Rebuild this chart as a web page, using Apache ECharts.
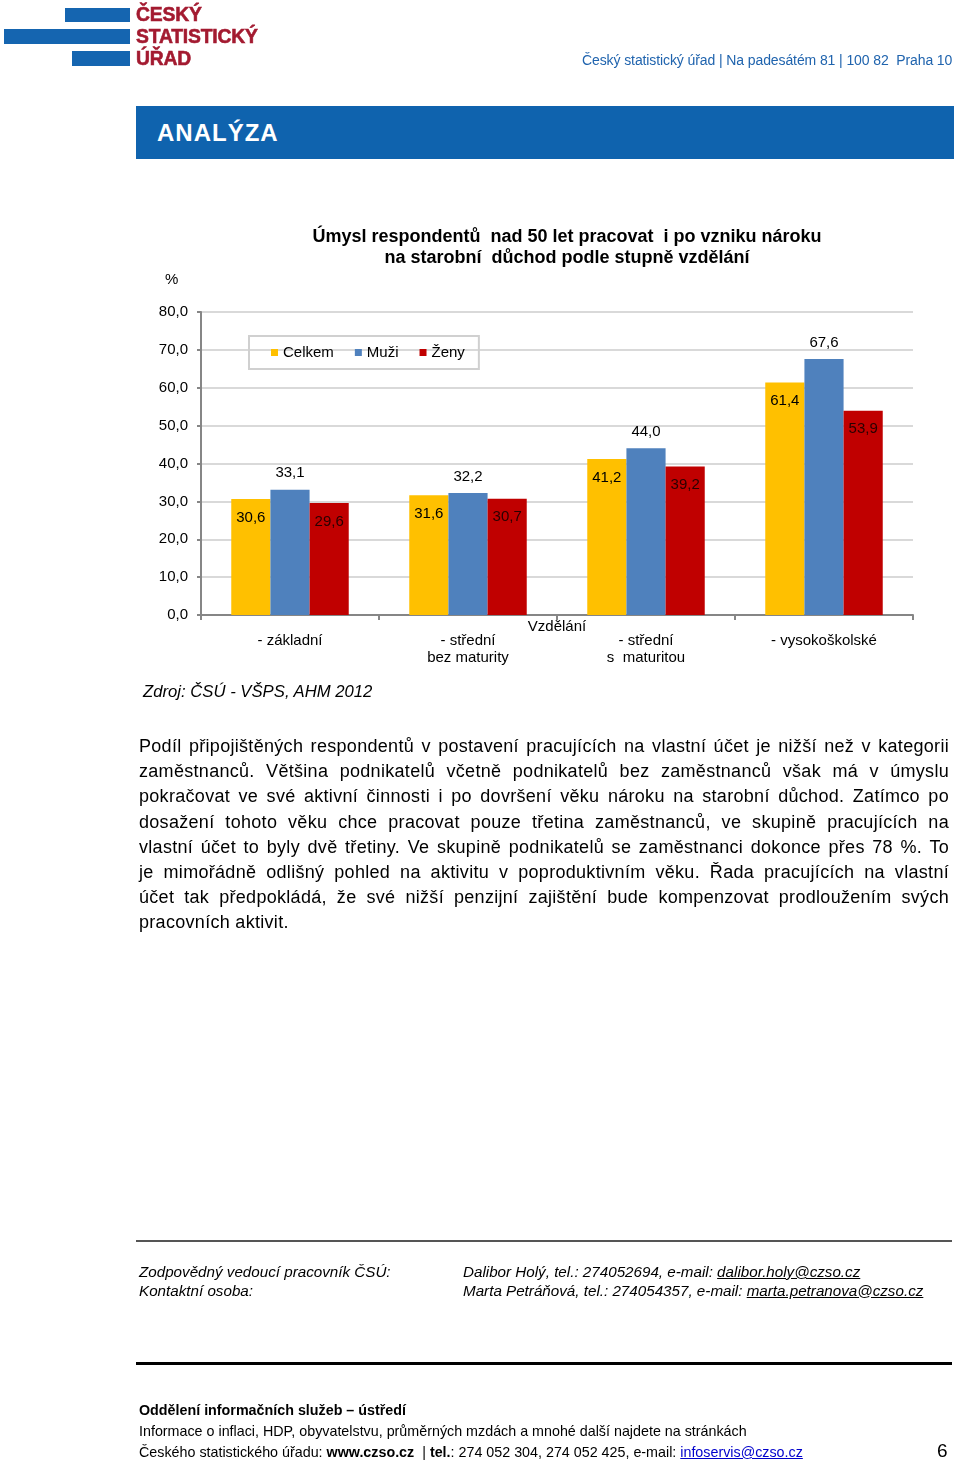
<!DOCTYPE html>
<html>
<head>
<meta charset="utf-8">
<script src="https://cdn.jsdelivr.net/npm/echarts@6/dist/echarts.min.js"></script>
<style>
  html, body { margin:0; padding:0; background:#fff; }
  body { width:960px; height:1467px; position:relative; overflow:hidden; font-family:"Liberation Sans", Arial, sans-serif; color:#000; }
  #chart { position:absolute; left:0; top:0; width:960px; height:1467px; z-index:0; }
  .abs { position:absolute; z-index:2; white-space:nowrap; }
  .bar { position:absolute; background:#1565b0; z-index:2; }
  .logo { color:#a31a30; font-weight:bold; font-size:21px; line-height:22px; transform:scaleX(0.92); transform-origin:left center; letter-spacing:-0.2px; -webkit-text-stroke:0.6px #a31a30; }
  .para { position:absolute; left:139px; top:734px; width:810px; font-size:18px; letter-spacing:0.3px; line-height:25.2px; z-index:2; }
  .para div { text-align:justify; text-align-last:justify; white-space:nowrap; }
  .para div.last { text-align-last:left; }
  .foot-i { font-style:italic; font-size:15.2px; line-height:18.5px; }
  .foot-b { font-size:14.3px; line-height:21px; }
  a { color:#00c; text-decoration:underline; }
</style>
</head>
<body>
<div id="chart"></div>

<!-- header / logo -->
<div class="bar" style="left:65px;top:8px;width:65px;height:14px;"></div>
<div class="bar" style="left:4px;top:29px;width:126px;height:15px;"></div>
<div class="bar" style="left:72px;top:51px;width:58px;height:15px;"></div>
<div class="abs logo" style="left:136px;top:3px;">ČESKÝ<br>STATISTICKÝ<br>ÚŘAD</div>
<div class="abs" style="left:582px;top:52px;font-size:14px;color:#2064ae;letter-spacing:-0.1px;">Český statistický úřad | Na padesátém 81 | 100 82&nbsp; Praha 10</div>
<div class="abs" style="left:136px;top:106px;width:818px;height:53px;background:#0f63ae;"></div>
<div class="abs" style="left:157px;top:118px;font-size:24px;font-weight:bold;color:#fff;letter-spacing:1px;line-height:30px;">ANALÝZA</div>

<!-- source -->
<div class="abs" style="left:143px;top:682px;font-size:16.7px;font-style:italic;">Zdroj: ČSÚ - VŠPS, AHM 2012</div>

<!-- paragraph -->
<div class="para">
<div>Podíl připojištěných respondentů v&nbsp;postavení pracujících na vlastní účet je nižší než v&nbsp;kategorii</div>
<div>zaměstnanců. Většina podnikatelů včetně podnikatelů bez zaměstnanců však má v&nbsp;úmyslu</div>
<div>pokračovat ve své aktivní činnosti i po dovršení věku nároku na starobní důchod. Zatímco po</div>
<div>dosažení tohoto věku chce pracovat pouze třetina zaměstnanců, ve skupině pracujících na</div>
<div>vlastní účet to byly dvě třetiny. Ve skupině podnikatelů se zaměstnanci dokonce přes 78 %. To</div>
<div>je mimořádně odlišný pohled na aktivitu v&nbsp;poproduktivním věku. Řada pracujících na vlastní</div>
<div>účet tak předpokládá, že své nižší penzijní zajištění bude kompenzovat prodloužením svých</div>
<div class="last">pracovních aktivit.</div>
</div>

<!-- footer -->
<div class="abs" style="left:136px;top:1240px;width:816px;height:1.5px;background:#555;"></div>
<div class="abs foot-i" style="left:139px;top:1263px;">Zodpovědný vedoucí pracovník ČSÚ:<br>Kontaktní osoba:</div>
<div class="abs foot-i" style="left:463px;top:1263px;">Dalibor Holý, tel.: 274052694, e-mail: <span style="text-decoration:underline">dalibor.holy@czso.cz</span><br>Marta Petráňová, tel.: 274054357, e-mail: <span style="text-decoration:underline">marta.petranova@czso.cz</span></div>
<div class="abs" style="left:136px;top:1362px;width:816px;height:3px;background:#000;"></div>
<div class="abs foot-b" style="left:139px;top:1400px;"><b>Oddělení informačních služeb – ústředí</b><br>Informace o inflaci, HDP, obyvatelstvu, průměrných mzdách a mnohé další najdete na stránkách<br>Českého statistického úřadu: <b>www.czso.cz</b>&nbsp; | <b>tel.</b>: 274 052 304, 274 052 425, e-mail: <a>infoservis@czso.cz</a></div>
<div class="abs" style="left:937px;top:1440px;font-size:19px;">6</div>

<script>
const categories = ['- základní', '- střední\nbez maturity', '- střední\ns  maturitou', '- vysokoškolské'];
const seriesNames = ['Celkem', 'Muži', 'Ženy'];
const celkem = [30.6, 31.6, 41.2, 61.4];
const muzi = [33.1, 32.2, 44.0, 67.6];
const zeny = [29.6, 30.7, 39.2, 53.9];
const yTicks = [0, 10, 20, 30, 40, 50, 60, 70, 80];

const fmt = v => Number(v).toFixed(1).replace('.', ',');
const FONT = '"Liberation Sans", Arial, sans-serif';

const chart = echarts.init(document.getElementById('chart'), null, {renderer: 'canvas'});
chart.setOption({
  animation: false,
  textStyle: { fontFamily: FONT },
  title: {
    text: 'Úmysl respondentů  nad 50 let pracovat  i po vzniku nároku\nna starobní  důchod podle stupně vzdělání',
    left: 562, top: 222, textAlign: 'center',
    textStyle: { fontSize: 18, fontWeight: 'bold', color: '#000', lineHeight: 21, fontFamily: FONT }
  },
  graphic: [
    { type: 'text', left: 165, top: 272, style: { text: '%', fontSize: 15, fill: '#000', fontFamily: FONT } }
  ],
  legend: {
    data: seriesNames,
    left: 249, top: 336,
    orient: 'horizontal',
    icon: 'rect', itemWidth: 7, itemHeight: 7, itemGap: 21,
    padding: [9, 14, 9, 22],
    borderColor: '#d0d0d0', borderWidth: 2, borderRadius: 0,
    textStyle: { fontSize: 15, color: '#000', fontFamily: FONT }
  },
  grid: { left: 201, right: 47, top: 312, bottom: 852, containLabel: false },
  xAxis: {
    type: 'category',
    data: categories,
    name: 'Vzdělání', nameLocation: 'middle', nameGap: 4, nameMoveOverlap: false,
    nameTextStyle: { fontSize: 15, color: '#000', fontFamily: FONT },
    axisLine: { lineStyle: { color: '#868686', width: 2 } },
    axisTick: { show: true, length: 5, lineStyle: { color: '#868686', width: 2 } },
    axisLabel: { fontSize: 15, color: '#000', margin: 17, lineHeight: 17, fontFamily: FONT }
  },
  yAxis: {
    type: 'value', min: 0, max: 80, interval: 10,
    axisLine: { show: true, lineStyle: { color: '#868686', width: 2 } },
    axisTick: { show: true, length: 4, lineStyle: { color: '#868686', width: 2 } },
    splitLine: { lineStyle: { color: '#d9d9d9', width: 2 } },
    axisLabel: { fontSize: 15, color: '#000', margin: 13, formatter: v => fmt(v), fontFamily: FONT }
  },
  series: [
    { name: seriesNames[0], type: 'bar', data: celkem, barGap: '0%', barCategoryGap: '34%',
      itemStyle: { color: '#FFC000' },
      label: { show: true, position: 'insideTop', distance: 11, fontSize: 15, color: '#000', formatter: p => fmt(p.value), fontFamily: FONT } },
    { name: seriesNames[1], type: 'bar', data: muzi, barGap: '0%', barCategoryGap: '34%',
      itemStyle: { color: '#4F81BD' },
      label: { show: true, position: 'top', distance: 9, fontSize: 15, color: '#000', formatter: p => fmt(p.value), fontFamily: FONT } },
    { name: seriesNames[2], type: 'bar', data: zeny, barGap: '0%', barCategoryGap: '34%',
      itemStyle: { color: '#C00000' },
      label: { show: true, position: 'insideTop', distance: 11, fontSize: 15, color: '#2a0000', formatter: p => fmt(p.value), fontFamily: FONT } }
  ]
});
</script>
</body>
</html>
